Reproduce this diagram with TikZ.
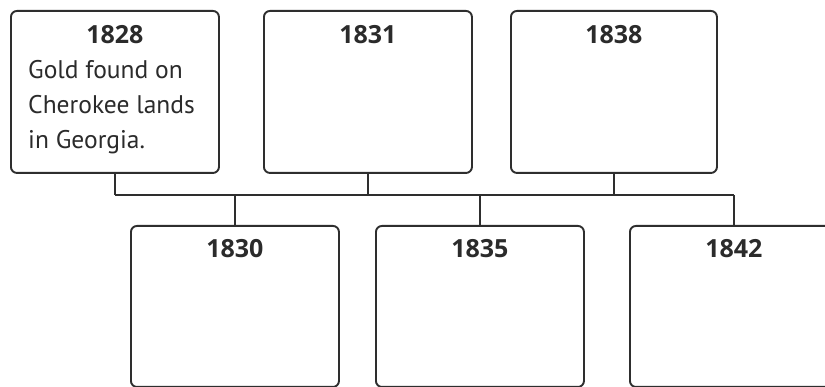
\documentclass[tikz,border=0pt]{standalone}
\usepackage{fontspec}
\setmainfont{PT Sans}
\newfontfamily\yearfont{Open Sans}
\definecolor{linegray}{HTML}{2E2E2E}
\definecolor{txtgray}{HTML}{2B2B2B}
\begin{document}
\begin{tikzpicture}[x=1pt,y=-1pt,
  evbox/.style={draw=linegray, line width=1.9pt, rounded corners=6pt, minimum width=208pt, minimum height=162pt, inner sep=0pt, anchor=north west},
  yr/.style={font=\yearfont\fontsize{25}{28}\selectfont\bfseries, text=txtgray, anchor=base, inner sep=0pt},
  body/.style={font=\fontsize{25.5}{35}\selectfont, text=txtgray, align=left, anchor=north west, inner sep=0pt},
  conn/.style={draw=linegray, line width=1.7pt}]
\useasboundingbox (0,0) rectangle (825,387);
\clip (0,0) rectangle (825,387);
\fill[white] (0,0) rectangle (825,387);
% boxes
\node[evbox] (b1828) at (10,10) {};
\node[evbox] (b1831) at (263,10) {};
\node[evbox, minimum width=206pt] (b1838) at (510,10) {};
\node[evbox, minimum height=161pt] (b1830) at (130,225) {};
\node[evbox, minimum height=161pt] (b1835) at (375,225) {};
\node[evbox, minimum height=161pt] (b1842) at (629,225) {};
% years
\node[yr] (y1828) at ([yshift=-34pt]b1828.north) {1828};
\node[yr] (y1831) at ([yshift=-34pt]b1831.north) {1831};
\node[yr] (y1838) at ([yshift=-34pt]b1838.north) {1838};
\node[yr] (y1830) at ([yshift=-33pt]b1830.north) {1830};
\node[yr] (y1835) at ([yshift=-33pt]b1835.north) {1835};
\node[yr] (y1842) at ([yshift=-33pt]b1842.north) {1842};
% body text
\node[body] (t1828) at (28,60) {Gold found on\\Cherokee lands\\in Georgia.};
% connectors
\coordinate (bus) at (0,195);
\draw[conn] (b1828.south |- bus) -- (b1842.north |- bus);
\draw[conn] (b1828.south) -- (b1828.south |- bus);
\draw[conn] (b1831.south) -- (b1831.south |- bus);
\draw[conn] (b1838.south) -- (b1838.south |- bus);
\draw[conn] (b1830.north) -- (b1830.north |- bus);
\draw[conn] (b1835.north) -- (b1835.north |- bus);
\draw[conn] (b1842.north) -- (b1842.north |- bus);
\end{tikzpicture}
\end{document}
